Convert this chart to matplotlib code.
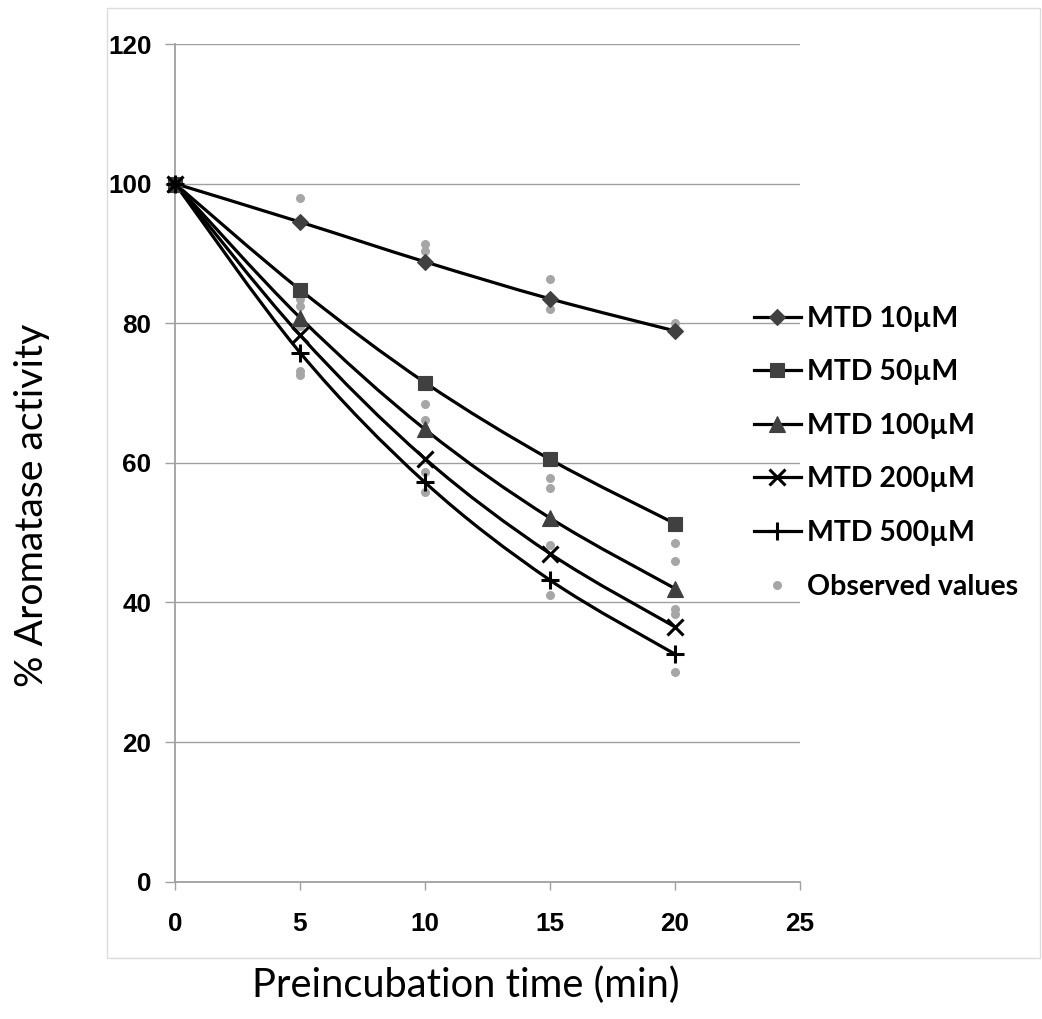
import matplotlib
matplotlib.use("Agg")
import matplotlib.pyplot as plt
from matplotlib.path import Path
from matplotlib.patches import PathPatch, Rectangle
from matplotlib.lines import Line2D

# Preincubation times (min)
times = [0, 5, 10, 15, 20]

# Fitted aromatase activity (%) for each MTD concentration
series_labels = ["MTD 10µM", "MTD 50µM", "MTD 100µM", "MTD 200µM", "MTD 500µM"]
mtd_10 = [100, 94.5, 88.8, 83.5, 78.9]
mtd_50 = [100, 84.8, 71.5, 60.5, 51.3]
mtd_100 = [100, 80.8, 64.8, 52.1, 42.0]
mtd_200 = [100, 78.3, 60.6, 47.0, 36.5]
mtd_500 = [100, 75.8, 57.2, 43.2, 32.6]

# Observed (measured) values
obs_time = [0,
            5, 5, 5, 5, 5, 5,
            10, 10, 10, 10, 10, 10,
            15, 15, 15, 15, 15, 15,
            20, 20, 20, 20, 20, 20]
obs_value = [100,
             98.0, 83.5, 82.5, 79.6, 73.2, 72.6,
             91.4, 90.4, 68.5, 66.1, 58.7, 55.8,
             86.3, 82.1, 57.9, 56.4, 48.2, 41.0,
             80.0, 48.5, 45.9, 39.1, 38.4, 30.1]

x_ticks = [0, 5, 10, 15, 20, 25]
y_ticks = [0, 20, 40, 60, 80, 100, 120]

plt.rcParams["font.family"] = ["Liberation Sans", "DejaVu Sans"]

W, H = 1042, 1019
fig = plt.figure(figsize=(W / 100, H / 100), dpi=100)
fig.patch.set_facecolor("white")

# light chart-area frame
fig.add_artist(Rectangle((107 / W, 1 - 958 / H), (1040 - 107) / W, (958 - 8) / H,
                         transform=fig.transFigure, fill=False,
                         edgecolor="#dcdcdc", linewidth=1.0))

ax = fig.add_axes([175 / W, 1 - 881.7 / H, 625 / W, (881.7 - 44) / H])
ax.set_xlim(0, 25)
ax.set_ylim(0, 120)
ax.set_xticks(x_ticks)
ax.set_yticks(y_ticks)
ax.set_xticklabels([str(v) for v in x_ticks])
ax.set_yticklabels([str(v) for v in y_ticks])

grid_c = "#a0a0a0"
ax.yaxis.grid(True, color=grid_c, linewidth=1.0)
ax.set_axisbelow(True)
for s in ("top", "right"):
    ax.spines[s].set_visible(False)
for s in ("left", "bottom"):
    ax.spines[s].set_color(grid_c)
    ax.spines[s].set_linewidth(1.3)

ax.tick_params(axis="y", length=7, width=1.0, color=grid_c, pad=10,
               labelsize=18.8, labelcolor="black")
ax.tick_params(axis="x", length=6, width=1.0, color=grid_c, pad=15.5,
               labelsize=18.8, labelcolor="black")
for lab in ax.get_xticklabels() + ax.get_yticklabels():
    lab.set_fontweight("bold")


def smooth_path(xs, ys):
    """Cubic Bezier path through the points (smoothed line)."""
    n = len(xs)
    pts = list(zip(xs, ys))
    verts = [pts[0]]
    codes = [Path.MOVETO]
    for i in range(n - 1):
        p0 = pts[i - 1] if i > 0 else pts[i]
        p1 = pts[i]
        p2 = pts[i + 1]
        p3 = pts[i + 2] if i + 2 < n else pts[i + 1]
        c1 = (p1[0] + (p2[0] - p0[0]) / 6, p1[1] + (p2[1] - p0[1]) / 6)
        c2 = (p2[0] - (p3[0] - p1[0]) / 6, p2[1] - (p3[1] - p1[1]) / 6)
        verts += [c1, c2, p2]
        codes += [Path.CURVE4] * 3
    return Path(verts, codes)


# observed points
ax.plot(obs_time, obs_value, linestyle="none", marker="o", markersize=6.5,
        color="#a6a6a6", markeredgewidth=0, zorder=2, clip_on=False)

series = [mtd_10, mtd_50, mtd_100, mtd_200, mtd_500]
marker_specs = [
    dict(marker="D", markersize=8.5, markerfacecolor="#404040", markeredgecolor="#404040", markeredgewidth=0.8),
    dict(marker="s", markersize=9.5, markerfacecolor="#404040", markeredgecolor="#404040", markeredgewidth=0.8),
    dict(marker="^", markersize=11, markerfacecolor="#404040", markeredgecolor="#404040", markeredgewidth=0.8),
    dict(marker="x", markersize=12, markeredgecolor="black", markeredgewidth=2.2),
    dict(marker="+", markersize=13, markeredgecolor="black", markeredgewidth=2.2),
]

handles = []
for vals, spec, lab in zip(series, marker_specs, series_labels):
    ax.add_patch(PathPatch(smooth_path(times, vals), facecolor="none",
                           edgecolor="black", linewidth=2.3, zorder=3,
                           capstyle="round", joinstyle="round"))
    ax.plot(times, vals, linestyle="none", zorder=4, clip_on=False, **spec)
    handles.append(Line2D([], [], color="black", linewidth=2.3, label=lab, **spec))

handles.append(Line2D([], [], linestyle="none", marker="o", markersize=6.5,
                      color="#a6a6a6", markeredgewidth=0, label="Observed values"))

leg = fig.legend(handles=handles, loc="upper left",
                 bbox_to_anchor=(754 / W, 1 - 305.5 / H), frameon=False,
                 handlelength=1.65, handletextpad=0.22, labelspacing=0.97,
                 borderpad=0, borderaxespad=0,
                 prop={"family": "Lato", "weight": "bold", "size": 20.5})

fig.text(466 / W, 1 - 985 / H, "Preincubation time (min)", ha="center",
         va="center", fontsize=28.7, family="Lato")
fig.text(32 / W, 1 - 505 / H, "% Aromatase activity", ha="center",
         va="center", rotation=90, fontsize=28.3, family="Lato")

fig.savefig("out.png", dpi=100, facecolor="white")
